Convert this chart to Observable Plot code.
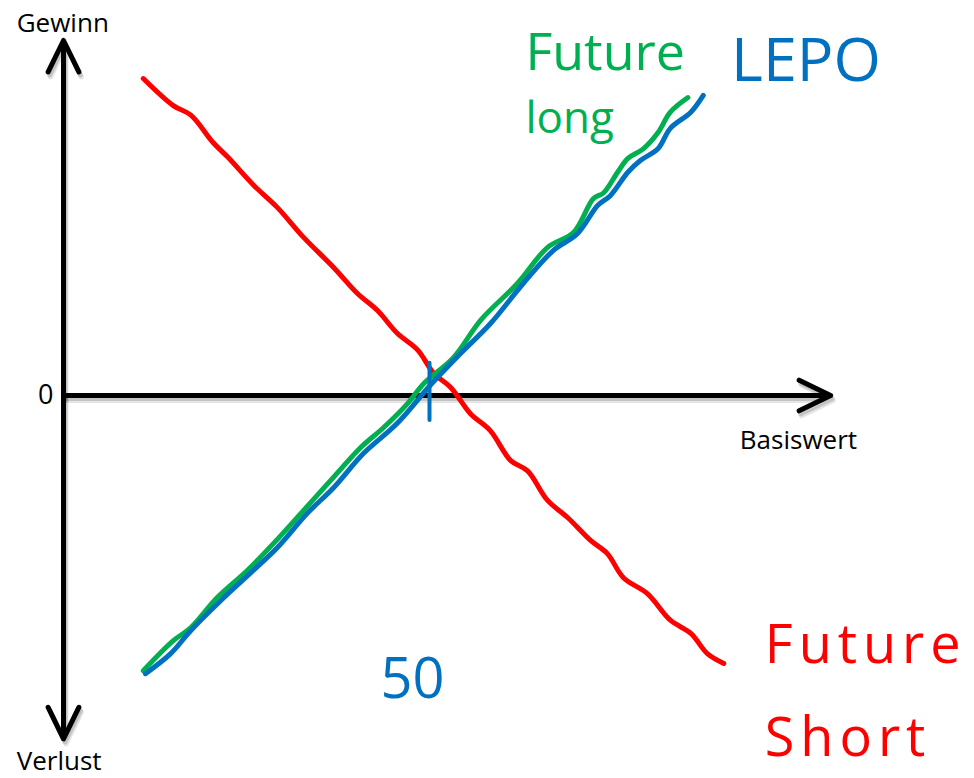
<!DOCTYPE html>
<html>
<head>
<meta charset="utf-8">
<script src="https://cdn.jsdelivr.net/npm/d3@7"></script>
<script src="https://cdn.jsdelivr.net/npm/@observablehq/plot@0.6"></script>
<style>
  html, body { margin: 0; padding: 0; background: #fff; }
  #chart svg { display: block; }
</style>
</head>
<body>
<div id="chart"></div>
<script>
// ---- Data (Basiswert on x, Gewinn/Verlust on y; strike at 50) ----
const futureLongX = [10.9, 15.0, 17.4, 21.0, 25.1, 28.7, 32.8, 36.5, 40.6, 43.7, 47.0, 49.2, 53.3, 57.0, 62.0, 66.1, 69.7, 72.4, 73.8, 75.7, 77.1, 79.2, 81.2, 82.9, 85.3];
const futureLongY = [-37.6, -33.5, -31.7, -27.6, -23.9, -20.2, -15.7, -11.6, -7.1, -4.4, -1.1, 1.6, 5.2, 10.3, 15.3, 20.2, 22.3, 26.9, 27.7, 30.5, 32.4, 33.7, 35.9, 38.7, 40.7];

const lepoX = [11.2, 14.6, 17.4, 21.5, 25.6, 29.2, 33.3, 36.9, 41.0, 45.6, 50.1, 54.2, 58.3, 62.8, 66.9, 70.2, 73.0, 74.7, 77.1, 78.8, 81.2, 82.9, 85.7, 87.4];
const lepoY = [-38.0, -35.3, -32.1, -28.0, -24.2, -20.8, -16.1, -12.6, -7.9, -3.8, 1.4, 5.7, 9.8, 15.3, 19.8, 22.1, 26.0, 27.3, 30.5, 32.1, 33.7, 36.5, 38.7, 41.0];

const futureShortX = [10.9, 15.0, 17.4, 20.4, 22.5, 26.0, 29.2, 32.8, 36.9, 40.2, 42.9, 45.6, 48.4, 50.6, 52.9, 55.6, 58.3, 61.1, 63.4, 66.1, 68.9, 72.0, 74.3, 76.5, 79.8, 82.9, 85.7, 88.0, 90.2];
const futureShortY = [43.3, 39.6, 38.3, 34.6, 32.5, 28.7, 25.7, 21.6, 17.5, 13.9, 11.6, 8.5, 6.2, 3.0, 1.1, -2.5, -4.8, -8.9, -10.3, -14.3, -16.7, -19.8, -21.6, -24.9, -27.1, -30.7, -32.5, -35.3, -36.6];

const strike = [50];
const strikeTickSpan = [-3.4, 4.4];
const xAxisExtent = [0, 104.8];
const yAxisExtent = [-46.9, 48.5];
const yTicks = [0];

const axisTitles = ["Gewinn", "Verlust", "Basiswert"];
const handLabelsGreen = ["Future", "long"];
const handLabelsBlue = ["LEPO", "50"];
const handLabelsRed = ["Future", "Short"];

// ---- Build tables ----
const zipXY = (xs, ys) => xs.map((x, i) => ({x, y: ys[i]}));
const futureLong = zipXY(futureLongX, futureLongY);
const lepo = zipXY(lepoX, lepoY);
const futureShort = zipXY(futureShortX, futureShortY);

// annotation anchors (data units)
const axisTitleAnchors = [
  {text: axisTitles[0], x: -0.1, y: 49.6},
  {text: axisTitles[1], x: -0.6, y: -51.2},
  {text: axisTitles[2], x: 100.4, y: -7.3}
];
const greenAnchors = [
  {text: handLabelsGreen[0], x: 63.1, y: 44.4, size: 52},
  {text: handLabelsGreen[1], x: 63.1, y: 35.9, size: 44}
];
const blueAnchors = [
  {text: handLabelsBlue[0], x: 91.2, y: 43.0, size: 61},
  {text: handLabelsBlue[1], x: 43.3, y: -41.3, size: 56}
];
const redAnchors = [
  {text: handLabelsRed[0], x: 95.8, y: -36.5},
  {text: handLabelsRed[1], x: 95.8, y: -49.2}
];

const GREEN = "#00b050", BLUE = "#0070c0", RED = "#ff0000";
const handFont = "'Open Sans', sans-serif";

const axisArrows = [
  {x1: xAxisExtent[0], y1: 0, x2: xAxisExtent[1], y2: 0},
  {x1: 0, y1: 0, x2: 0, y2: yAxisExtent[1]},
  {x1: 0, y1: 0, x2: 0, y2: yAxisExtent[0]}
];

const arrowOpts = {x1: "x1", y1: "y1", x2: "x2", y2: "y2", strokeWidth: 5, headLength: 10.5, headAngle: 52, strokeLinejoin: "round"};

const chart = Plot.plot({
  width: 974,
  height: 778,
  marginLeft: 63,
  marginRight: 179,
  marginTop: 29,
  marginBottom: 17,
  style: {fontFamily: "'Open Sans', sans-serif", fontSize: "26px", background: "#fff", overflow: "visible"},
  x: {domain: [0, 100], axis: null},
  y: {domain: [-50, 50], axis: null},
  marks: [
    // soft shadow of the axes
    Plot.arrow(axisArrows, {...arrowOpts, stroke: "#000", strokeOpacity: 0.1, dx: 2.5, dy: 5}),
    Plot.arrow(axisArrows, {...arrowOpts, stroke: "#000", strokeOpacity: 0.15, dx: 1.5, dy: 3}),
    Plot.arrow(axisArrows, {...arrowOpts, stroke: "black"}),
    Plot.axisY({ticks: yTicks, tickSize: 0, tickPadding: 10, label: null, fontSize: 27, fill: "black"}),
    Plot.line(futureShort, {x: "x", y: "y", stroke: RED, strokeWidth: 5, curve: "catmull-rom", strokeLinecap: "round"}),
    Plot.line(futureLong, {x: "x", y: "y", stroke: GREEN, strokeWidth: 5, curve: "catmull-rom", strokeLinecap: "round"}),
    Plot.line(lepo, {x: "x", y: "y", stroke: BLUE, strokeWidth: 5, curve: "catmull-rom", strokeLinecap: "round"}),
    Plot.ruleX(strike, {y1: strikeTickSpan[0], y2: strikeTickSpan[1], stroke: BLUE, strokeWidth: 4, strokeLinecap: "round"}),
    Plot.text(axisTitleAnchors, {x: "x", y: "y", text: "text", textAnchor: "middle", lineAnchor: "bottom", fontSize: 26, fill: "black"}),
    Plot.text(greenAnchors, {x: "x", y: "y", text: "text", textAnchor: "start", lineAnchor: "bottom", fontSize: "size", fontFamily: handFont, fill: GREEN}),
    Plot.text(blueAnchors, {x: "x", y: "y", text: "text", textAnchor: "start", lineAnchor: "bottom", fontSize: "size", fontFamily: handFont, fill: BLUE}),
    Plot.text(redAnchors, {x: "x", y: "y", text: "text", textAnchor: "start", lineAnchor: "bottom", fontSize: 54, fontFamily: handFont, fill: RED})
  ]
});

document.getElementById("chart").append(chart);
// widen the spacing of the hand-written red label, as in the sketch
d3.select(chart).selectAll("g").filter(function () {
  return this.getAttribute("fill") === RED;
}).selectAll("text").style("letter-spacing", "6px");
</script>
</body>
</html>
